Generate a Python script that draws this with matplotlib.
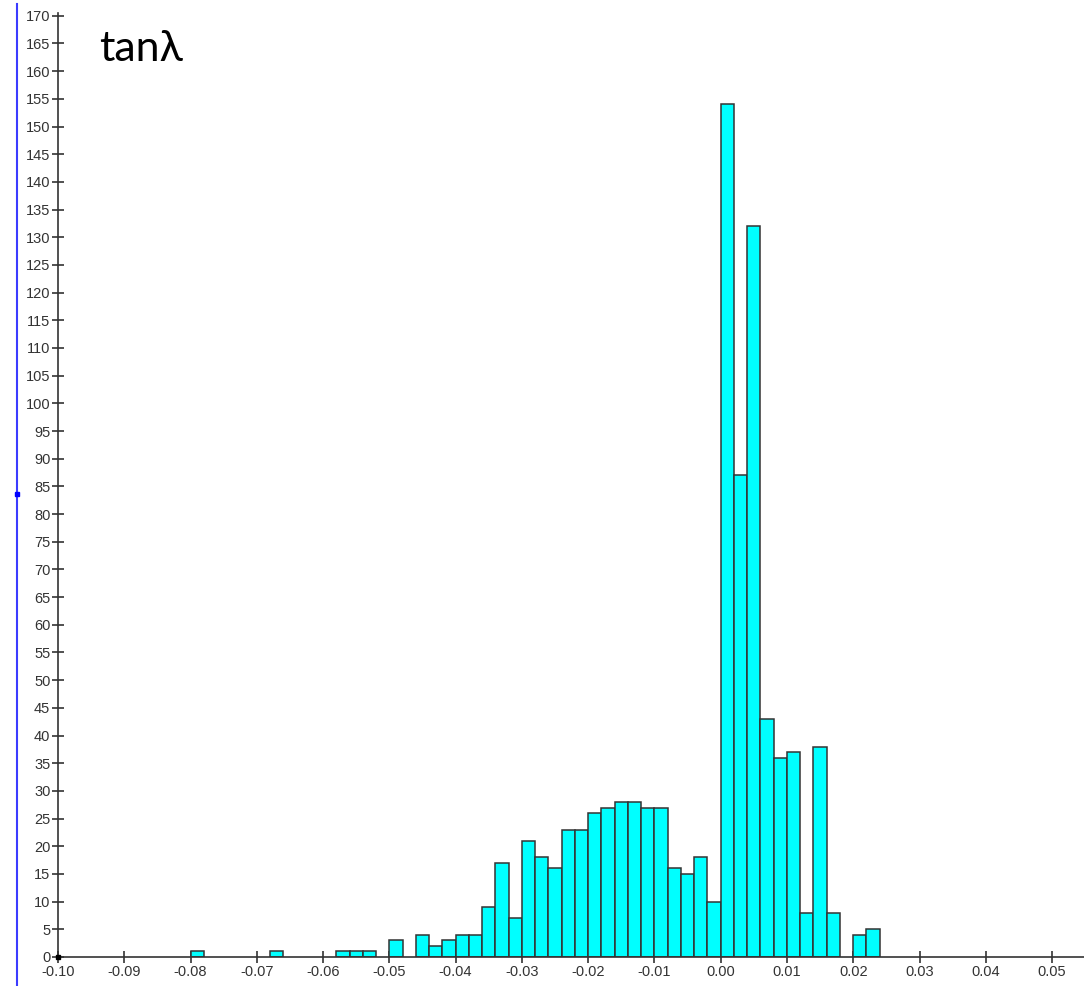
import numpy as np
import matplotlib
matplotlib.use("Agg")
import matplotlib.pyplot as plt
from matplotlib.lines import Line2D

# histogram of tan(lambda), bins of 0.002 starting at -0.080
bin_start = -0.080
bin_width = 0.002
counts = [1, 0, 0, 0, 0, 0, 1, 0, 0, 0,
          0, 1, 1, 1, 0, 3, 0, 4, 2, 3,
          4, 4, 9, 17, 7, 21, 18, 16, 23, 23,
          26, 27, 28, 28, 27, 27, 16, 15, 18, 10,
          154, 87, 132, 43, 36, 37, 8, 38, 8, 0,
          4, 5]

x_ticks = [-0.10, -0.09, -0.08, -0.07, -0.06, -0.05, -0.04, -0.03, -0.02, -0.01,
           0.00, 0.01, 0.02, 0.03, 0.04, 0.05]
y_ticks = list(range(0, 171, 5))
title = "tan\u03bb"

counts = np.array(counts)
edges = bin_start + bin_width * np.arange(len(counts))

fig = plt.figure(figsize=(10.84, 9.86), dpi=100)
ax = fig.add_axes([58 / 1084, 29 / 986, 1026 / 1084, 944 / 986])

# only draw non-empty bins
mask = counts > 0
ax.bar(edges[mask], counts[mask], width=bin_width, align='edge',
       color='#00ffff', edgecolor='#333333', linewidth=1.1, zorder=2)

ax.set_xlim(-0.10, -0.10 + 1026 / 66.27 * 0.01)
ax.set_ylim(0, 170.5)
ax.set_xticks(x_ticks)
ax.set_xticklabels([f"{t:.2f}" for t in x_ticks])
ax.set_yticks(y_ticks)

for s in ['top', 'right']:
    ax.spines[s].set_visible(False)
for s in ['left', 'bottom']:
    ax.spines[s].set_color('#333333')
    ax.spines[s].set_linewidth(1.2)
ax.spines['left'].set_zorder(3)
ax.spines['bottom'].set_zorder(3)

ax.tick_params(direction='inout', length=8, width=1.2, color='#333333',
               labelsize=10.5, labelcolor='#333333', pad=1.5)
for lab in ax.get_xticklabels() + ax.get_yticklabels():
    lab.set_fontfamily('Liberation Sans')

ax.plot([-0.10], [0], 's', color='black', markersize=3, clip_on=False, zorder=4)

ax.text(99 / 1084, 1 - 61 / 986, title, transform=fig.transFigure,
        fontsize=31, family='Lato', color='black')

# blue side line of the frame
fig.add_artist(Line2D([17 / 1084, 17 / 1084], [0, 1 - 4 / 986], color='#3c3cff',
                      linewidth=1.5, transform=fig.transFigure))
fig.add_artist(Line2D([17 / 1084], [1 - 494 / 986], marker='s', markersize=3,
                      color='#0000ff', transform=fig.transFigure))

fig.savefig('out.png', dpi=100)
